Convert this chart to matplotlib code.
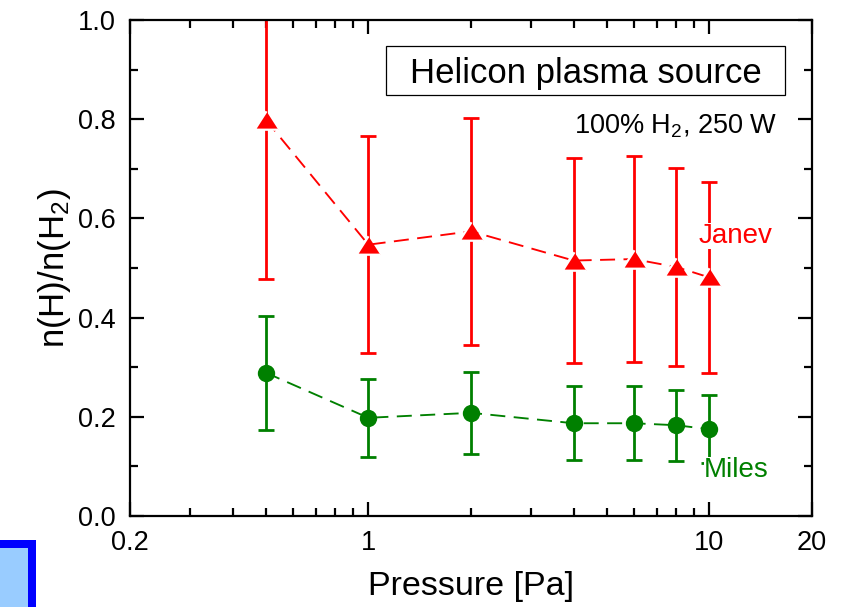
import matplotlib
matplotlib.use("Agg")
import matplotlib.pyplot as plt
from matplotlib.patches import Rectangle
from matplotlib.ticker import FixedLocator, FixedFormatter, MultipleLocator

plt.rcParams['font.family'] = ['Liberation Sans', 'DejaVu Sans']
plt.rcParams['mathtext.fontset'] = 'custom'
plt.rcParams['mathtext.rm'] = 'Liberation Sans'
plt.rcParams['mathtext.it'] = 'Liberation Sans:italic'
plt.rcParams['mathtext.bf'] = 'Liberation Sans:bold'

# Pressure scan (Pa) and atomic-to-molecular density ratio
pressure = [0.5, 1, 2, 4, 6, 8, 10]
janev = [0.799, 0.547, 0.574, 0.515, 0.518, 0.502, 0.481]
janev_err = [0.322, 0.219, 0.229, 0.207, 0.207, 0.200, 0.193]
miles = [0.289, 0.198, 0.208, 0.187, 0.187, 0.183, 0.175]
miles_err = [0.115, 0.079, 0.083, 0.075, 0.075, 0.072, 0.069]

xticks = [0.2, 1, 10, 20]
xticklabels = ['0.2', '1', '10', '20']
xminor = [0.3, 0.4, 0.5, 0.6, 0.7, 0.8, 0.9, 2, 3, 4, 5, 6, 7, 8, 9]
yticks = [0.0, 0.2, 0.4, 0.6, 0.8, 1.0]

RED = '#ff0000'
GREEN = '#008000'

fig = plt.figure(figsize=(8.43, 6.07), dpi=100)
ax = fig.add_axes([130 / 843, 1 - 516 / 607, 682 / 843, 496 / 607])

ax.set_xscale('log')
ax.set_xlim(0.2, 20)
ax.set_ylim(0.0, 1.0)

dash = (8, 4.5)
# Janev cross-section evaluation
ax.errorbar(pressure, janev, yerr=janev_err, fmt='none', ecolor=RED,
            elinewidth=2.0, capsize=5.8, capthick=2.0, zorder=2)
ax.plot(pressure, janev, color=RED, lw=1.35, dashes=dash, zorder=2)
tri = [(0, 0.78), (-1, -0.78), (1, -0.78)]
ax.plot(pressure, janev, linestyle='none', marker=tri, markersize=17,
        markerfacecolor=RED, markeredgecolor='white', markeredgewidth=1.6,
        zorder=4)

# Miles cross-section evaluation
ax.errorbar(pressure, miles, yerr=miles_err, fmt='none', ecolor=GREEN,
            elinewidth=2.0, capsize=5.8, capthick=2.0, zorder=2)
ax.plot(pressure, miles, color=GREEN, lw=1.35, dashes=dash, zorder=2)
ax.plot(pressure, miles, linestyle='none', marker='o', markersize=12.5,
        markerfacecolor=GREEN, markeredgecolor=GREEN, markeredgewidth=0,
        zorder=4)

# axes styling
for s in ax.spines.values():
    s.set_linewidth(1.6)
ax.xaxis.set_major_locator(FixedLocator(xticks))
ax.xaxis.set_major_formatter(FixedFormatter(xticklabels))
ax.xaxis.set_minor_locator(FixedLocator(xminor))
ax.xaxis.set_minor_formatter(FixedFormatter([''] * len(xminor)))
ax.set_yticks(yticks)
ax.set_yticklabels([f'{v:.1f}' for v in yticks])
ax.yaxis.set_minor_locator(MultipleLocator(0.1))
ax.tick_params(which='both', direction='in', top=True, right=True,
               width=1.6, labelsize=19.5, pad=10)
ax.tick_params(which='major', length=10)
ax.tick_params(which='minor', length=5.5)

ax.set_xlabel('Pressure [Pa]', fontsize=24.5, labelpad=11)
ax.set_ylabel(r'n(H)/n(H$_2$)', fontsize=25, labelpad=4)

# annotations
ax.add_patch(Rectangle((0.3754, 0.8488), 0.585, 0.0992, transform=ax.transAxes,
                       facecolor='white', edgecolor='black', lw=0.9, zorder=5))
ax.text(0.6686, 0.8736, 'Helicon plasma source', transform=ax.transAxes,
        ha='center', va='baseline', fontsize=25, zorder=6)
ax.text(0.9487, 0.7716, r'100% H$_2$, 250 W', transform=ax.transAxes,
        ha='right', va='baseline', fontsize=19.5, zorder=6)
ax.text(0.833, 0.551, 'Janev', transform=ax.transAxes, ha='left',
        va='baseline', fontsize=20, color=RED, zorder=6,
        bbox=dict(boxstyle='square,pad=0.0', facecolor='white',
                  edgecolor='none'))
ax.text(0.8416, 0.079, 'Miles', transform=ax.transAxes, ha='left',
        va='baseline', fontsize=20, color=GREEN, zorder=6,
        bbox=dict(boxstyle='square,pad=0.0', facecolor='white',
                  edgecolor='none'))

# corner badge
fig.add_artist(Rectangle((0, 0), 35.7 / 843, 67 / 607, transform=fig.transFigure,
                         facecolor='#0000ff', edgecolor='none'))
fig.add_artist(Rectangle((0, 0), 27.7 / 843, 59 / 607, transform=fig.transFigure,
                         facecolor='#99ccff', edgecolor='none'))

fig.savefig('out.png', dpi=100)
